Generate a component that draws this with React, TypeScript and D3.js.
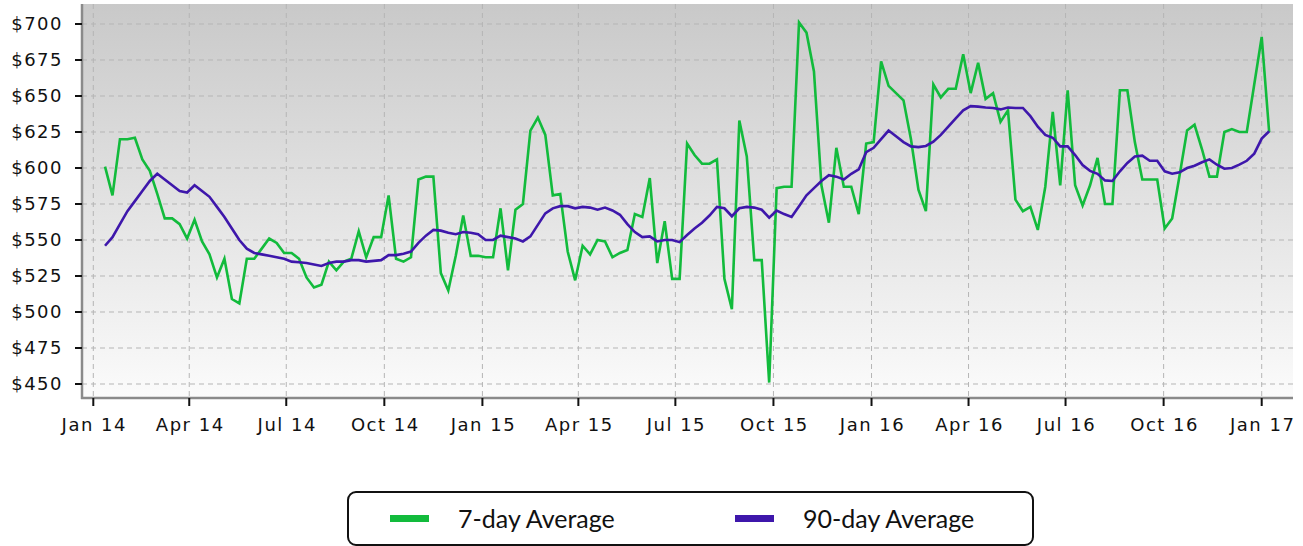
import React from "react";
import * as d3 from "d3";

const START_DATE = new Date(2014, 0, 12);
const WEEKS = 157;

const avg7: number[] = [
  601, 581, 620, 620, 621, 606, 598, 582, 565, 565,
  561, 551, 564, 549, 540, 524, 537, 509, 506, 537,
  537, 544, 551, 548, 541, 541, 537, 524, 517, 519,
  535, 529, 535, 537, 556, 538, 552, 552, 581, 537,
  535, 538, 592, 594, 594, 527, 515, 539, 567, 539,
  539, 538, 538, 572, 529, 571, 575, 626, 635, 623,
  581, 582, 542, 522, 546, 540, 550, 549, 538, 541,
  543, 568, 566, 593, 534, 563, 523, 523, 617, 609,
  603, 603, 606, 523, 502, 633, 608, 536, 536, 451,
  586, 587, 587, 701, 694, 667, 588, 562, 614, 587,
  587, 568, 617, 618, 674, 657, 652, 647, 620, 585,
  570, 658, 649, 655, 655, 679, 652, 673, 648, 652,
  632, 640, 578, 570, 573, 557, 587, 639, 588, 654,
  588, 574, 588, 607, 575, 575, 654, 654, 618, 592,
  592, 592, 558, 565, 595, 626, 630, 613, 594, 594,
  625, 627, 625, 625, 658, 691, 625,
];

const avg90: number[] = [
  546, 552, 561, 570, 577, 584, 591, 596, 592, 588,
  584, 583, 588, 584, 580, 573, 566, 558, 550, 544,
  541, 540, 539, 538, 537, 535, 534.5, 534, 533, 532,
  534, 535, 535, 536, 536, 535, 535.5, 536, 539.5, 539.5,
  540.5, 542, 548, 553, 557, 556.5, 555, 554, 555.5, 555,
  554, 550, 550, 553, 552, 551, 549, 552.5, 560.5, 568.5,
  572, 573.5, 573.5, 572, 573, 572.5, 571, 572.5, 570.5, 567.5,
  561, 555.5, 552, 552.5, 549, 550, 550, 548.5, 553.5, 558,
  562, 567, 573, 572, 566.5, 572, 573, 572.5, 571, 565.5,
  570.5, 568, 566, 573.5, 581, 586, 591, 595, 594, 592,
  596, 599, 611, 614, 620, 626, 622, 618, 615, 614.5,
  615.3, 618.3, 623, 628.7, 634.5, 640, 643, 642.6, 642, 641.7,
  640.7, 642, 641.7, 641.7, 636, 628.7, 623, 621, 615, 615,
  609, 602, 598, 596, 591.4, 591, 597.7, 603.5, 608, 608.6,
  605, 605, 597.7, 596, 597, 600, 601.6, 604, 606, 602.3,
  599.5, 600, 602.3, 605, 610, 620.4, 625.5,
];

const yTicks: number[] = [450, 475, 500, 525, 550, 575, 600, 625, 650, 675, 700];
const seriesNames: string[] = ["7-day Average", "90-day Average"];
const seriesColors: string[] = ["#12bb3c", "#3e17ab"];

const W = 1303;
const H = 546;
const plot = { left: 82, top: 4, right: 1293, bottom: 398 };

export default function App() {
  const dates = d3.range(WEEKS).map((i) => d3.timeDay.offset(START_DATE, i * 7));
  const x = d3
    .scaleTime()
    .domain([new Date(2014, 0, 1), new Date(2017, 0, 1)])
    .range([93.3, 1261.7]);
  const y = d3.scaleLinear().domain([450, 700]).range([384, 24]);
  const xTicks = x.ticks(d3.timeMonth.every(3) as any);
  const fmt = d3.timeFormat("%b %y");

  const line = d3
    .line<number>()
    .x((_, i) => x(dates[i]))
    .y((d) => y(d));

  const series = [avg7, avg90];
  const tickFont = {
    fontFamily: "'DejaVu Sans', Verdana, sans-serif",
    fontSize: 18,
    letterSpacing: 1.5,
    fill: "#111",
  } as const;

  const legendX = [390, 735];

  return (
    <svg
      width={W}
      height={H}
      style={{ position: "absolute", left: 0, top: 0, background: "#fff" }}
    >
      <defs>
        <linearGradient id="bg" x1="0" y1="0" x2="0" y2="1">
          <stop offset="0%" stopColor="#c9c9c9" />
          <stop offset="100%" stopColor="#fbfbfb" />
        </linearGradient>
      </defs>
      <rect
        x={plot.left}
        y={plot.top}
        width={plot.right - plot.left}
        height={plot.bottom - plot.top}
        fill="url(#bg)"
      />
      {yTicks.map((t) => (
        <line
          key={"gy" + t}
          x1={plot.left}
          x2={plot.right}
          y1={y(t)}
          y2={y(t)}
          stroke="#b5b5b5"
          strokeWidth={1}
          strokeDasharray="5,4"
        />
      ))}
      {xTicks.map((t) => (
        <line
          key={"gx" + t.getTime()}
          x1={x(t)}
          x2={x(t)}
          y1={plot.top}
          y2={plot.bottom}
          stroke="#b5b5b5"
          strokeWidth={1}
          strokeDasharray="5,4"
        />
      ))}
      {series.map((s, k) => (
        <path
          key={"s" + k}
          d={line(s) || ""}
          fill="none"
          stroke={seriesColors[k]}
          strokeWidth={2.6}
          strokeLinejoin="miter"
        />
      ))}
      <line x1={plot.left} x2={plot.left} y1={plot.top} y2={plot.bottom + 1} stroke="#8a8a8a" strokeWidth={2.5} />
      <line x1={plot.left - 1} x2={plot.right} y1={plot.bottom} y2={plot.bottom} stroke="#8a8a8a" strokeWidth={2.5} />
      {yTicks.map((t) => (
        <g key={"ty" + t}>
          <line x1={plot.left - 7} x2={plot.left} y1={y(t)} y2={y(t)} stroke="#111" strokeWidth={2} />
          <text x={63} y={y(t)} dy="0.36em" textAnchor="end" {...tickFont}>
            {"$" + t}
          </text>
        </g>
      ))}
      {xTicks.map((t) => (
        <g key={"tx" + t.getTime()}>
          <line x1={x(t)} x2={x(t)} y1={plot.bottom} y2={plot.bottom + 8} stroke="#111" strokeWidth={2} />
          <text x={x(t) + 1} y={431} textAnchor="middle" {...tickFont}>
            {fmt(t)}
          </text>
        </g>
      ))}
      <rect x={348} y={492} width={685} height={53} rx={8} ry={8} fill="#fff" stroke="#111" strokeWidth={2} />
      {seriesNames.map((n, k) => (
        <g key={"lg" + k}>
          <rect x={legendX[k]} y={515} width={39} height={7} fill={seriesColors[k]} />
          <text
            x={legendX[k] + 68}
            y={528}
            fontFamily="Lato, 'Open Sans', sans-serif"
            fontSize={25}
            fill="#111"
          >
            {n}
          </text>
        </g>
      ))}
    </svg>
  );
}
